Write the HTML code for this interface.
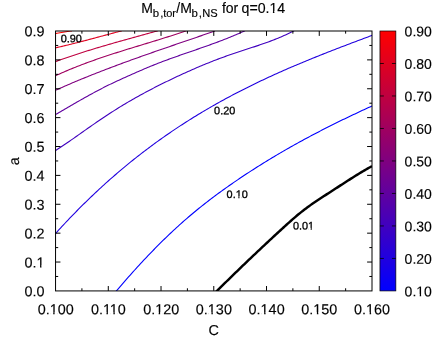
<!DOCTYPE html>
<html><head><meta charset="utf-8"><title>chart</title>
<style>
html,body{margin:0;padding:0;background:#fff;}
body{width:436px;height:337px;overflow:hidden;}
svg{display:block;}
text{font-family:"Liberation Sans",sans-serif;fill:#000;stroke:#000;stroke-width:0.15px;}
.lb text{stroke-width:0.3px;}
</style></head><body>
<svg width="436" height="337" viewBox="0 0 436 337">
<defs><filter id="gs" filterUnits="userSpaceOnUse" x="0" y="0" width="436" height="337"><feOffset dx="0" dy="0"/></filter><linearGradient id="g" x1="0" y1="1" x2="0" y2="0"><stop offset="0" stop-color="#0000ff"/><stop offset="1" stop-color="#ff0000"/></linearGradient>
<clipPath id="cp"><rect x="55.55" y="31.00" width="316.45" height="259.92"/></clipPath></defs>
<rect width="436" height="337" fill="#fff"/>
<g fill="none" stroke-width="1.1" stroke-linejoin="round" clip-path="url(#cp)" stroke-linecap="butt">
<path d="M54.00,33.87 L55.50,33.60 L57.00,33.33 L58.50,33.07 L60.00,32.81 L61.50,32.55 L63.00,32.30 L64.50,32.05 L66.00,31.80 L67.50,31.56 L69.00,31.32 L70.50,31.08 L72.00,30.84" stroke="rgb(255,0,0)"/>
<path d="M54.50,48.03 L56.00,47.70 L57.50,47.37 L59.00,47.04 L60.50,46.70 L62.00,46.36 L63.50,46.01 L65.00,45.66 L66.50,45.30 L68.00,44.94 L69.50,44.58 L71.00,44.21 L72.50,43.84 L74.00,43.46 L75.50,43.08 L77.00,42.70 L78.50,42.31 L80.00,41.92 L81.50,41.53 L83.00,41.14 L84.50,40.75 L86.00,40.35 L87.50,39.95 L89.00,39.55 L90.50,39.15 L92.00,38.75 L93.50,38.35 L95.00,37.94 L96.50,37.54 L98.00,37.14 L99.50,36.73 L101.00,36.33 L102.50,35.92 L104.00,35.52 L105.50,35.11 L107.00,34.71 L108.50,34.31 L110.00,33.91 L111.50,33.51 L113.00,33.11 L114.50,32.72 L116.00,32.33 L117.50,31.93 L119.00,31.55 L120.50,31.16 L122.00,30.77" stroke="rgb(223,0,32)"/>
<path d="M54.50,61.94 L56.00,61.40 L57.50,60.86 L59.00,60.32 L60.50,59.78 L62.00,59.25 L63.50,58.73 L65.00,58.21 L66.50,57.69 L68.00,57.17 L69.50,56.67 L71.00,56.16 L72.50,55.66 L74.00,55.16 L75.50,54.67 L77.00,54.17 L78.50,53.69 L80.00,53.20 L81.50,52.72 L83.00,52.25 L84.50,51.77 L86.00,51.30 L87.50,50.83 L89.00,50.37 L90.50,49.91 L92.00,49.45 L93.50,48.99 L95.00,48.53 L96.50,48.08 L98.00,47.63 L99.50,47.19 L101.00,46.74 L102.50,46.30 L104.00,45.86 L105.50,45.42 L107.00,44.98 L108.50,44.55 L110.00,44.12 L111.50,43.68 L113.00,43.26 L114.50,42.83 L116.00,42.40 L117.50,41.98 L119.00,41.55 L120.50,41.13 L122.00,40.71 L123.50,40.29 L125.00,39.87 L126.50,39.45 L128.00,39.03 L129.50,38.61 L131.00,38.20 L132.50,37.78 L134.00,37.37 L135.50,36.95 L137.00,36.54 L138.50,36.12 L140.00,35.71 L141.50,35.29 L143.00,34.88 L144.50,34.46 L146.00,34.05 L147.50,33.64 L149.00,33.22 L150.50,32.80 L152.00,32.39 L153.50,31.97 L155.00,31.55 L156.50,31.14 L158.00,30.72" stroke="rgb(191,0,64)"/>
<path d="M54.50,76.23 L56.00,75.54 L57.50,74.85 L59.00,74.17 L60.50,73.50 L62.00,72.83 L63.50,72.17 L65.00,71.52 L66.50,70.88 L68.00,70.24 L69.50,69.61 L71.00,68.99 L72.50,68.37 L74.00,67.77 L75.50,67.16 L77.00,66.57 L78.50,65.98 L80.00,65.40 L81.50,64.82 L83.00,64.25 L84.50,63.68 L86.00,63.12 L87.50,62.57 L89.00,62.02 L90.50,61.47 L92.00,60.93 L93.50,60.40 L95.00,59.87 L96.50,59.34 L98.00,58.82 L99.50,58.31 L101.00,57.79 L102.50,57.28 L104.00,56.78 L105.50,56.28 L107.00,55.78 L108.50,55.29 L110.00,54.80 L111.50,54.31 L113.00,53.82 L114.50,53.34 L116.00,52.86 L117.50,52.38 L119.00,51.91 L120.50,51.44 L122.00,50.97 L123.50,50.50 L125.00,50.03 L126.50,49.57 L128.00,49.10 L129.50,48.64 L131.00,48.18 L132.50,47.72 L134.00,47.26 L135.50,46.81 L137.00,46.35 L138.50,45.89 L140.00,45.44 L141.50,44.98 L143.00,44.52 L144.50,44.07 L146.00,43.61 L147.50,43.15 L149.00,42.70 L150.50,42.24 L152.00,41.78 L153.50,41.32 L155.00,40.86 L156.50,40.40 L158.00,39.94 L159.50,39.47 L161.00,39.01 L162.50,38.54 L164.00,38.07 L165.50,37.59 L167.00,37.12 L168.50,36.64 L170.00,36.16 L171.50,35.68 L173.00,35.20 L174.50,34.71 L176.00,34.22 L177.50,33.73 L179.00,33.23 L180.50,32.73 L182.00,32.22 L183.50,31.72 L185.00,31.20 L186.50,30.69" stroke="rgb(159,0,96)"/>
<path d="M54.50,90.73 L56.00,90.06 L57.50,89.39 L59.00,88.72 L60.50,88.05 L62.00,87.39 L63.50,86.74 L65.00,86.08 L66.50,85.43 L68.00,84.78 L69.50,84.14 L71.00,83.50 L72.50,82.86 L74.00,82.23 L75.50,81.60 L77.00,80.97 L78.50,80.35 L80.00,79.72 L81.50,79.11 L83.00,78.49 L84.50,77.88 L86.00,77.27 L87.50,76.66 L89.00,76.06 L90.50,75.46 L92.00,74.86 L93.50,74.26 L95.00,73.67 L96.50,73.08 L98.00,72.49 L99.50,71.90 L101.00,71.32 L102.50,70.74 L104.00,70.16 L105.50,69.58 L107.00,69.01 L108.50,68.44 L110.00,67.87 L111.50,67.30 L113.00,66.74 L114.50,66.17 L116.00,65.61 L117.50,65.05 L119.00,64.50 L120.50,63.94 L122.00,63.39 L123.50,62.83 L125.00,62.29 L126.50,61.74 L128.00,61.19 L129.50,60.65 L131.00,60.10 L132.50,59.56 L134.00,59.02 L135.50,58.48 L137.00,57.95 L138.50,57.41 L140.00,56.88 L141.50,56.34 L143.00,55.81 L144.50,55.28 L146.00,54.75 L147.50,54.22 L149.00,53.69 L150.50,53.17 L152.00,52.64 L153.50,52.12 L155.00,51.60 L156.50,51.07 L158.00,50.55 L159.50,50.03 L161.00,49.51 L162.50,48.99 L164.00,48.47 L165.50,47.96 L167.00,47.44 L168.50,46.92 L170.00,46.41 L171.50,45.89 L173.00,45.37 L174.50,44.86 L176.00,44.35 L177.50,43.83 L179.00,43.32 L180.50,42.80 L182.00,42.29 L183.50,41.78 L185.00,41.26 L186.50,40.75 L188.00,40.23 L189.50,39.72 L191.00,39.21 L192.50,38.69 L194.00,38.18 L195.50,37.67 L197.00,37.15 L198.50,36.64 L200.00,36.12 L201.50,35.61 L203.00,35.09 L204.50,34.57 L206.00,34.06 L207.50,33.54 L209.00,33.02 L210.50,32.50 L212.00,31.98 L213.50,31.46 L215.00,30.94" stroke="rgb(128,0,128)"/>
<path d="M54.50,115.13 L56.00,114.27 L57.50,113.40 L59.00,112.53 L60.50,111.66 L62.00,110.79 L63.50,109.92 L65.00,109.05 L66.50,108.17 L68.00,107.30 L69.50,106.43 L71.00,105.56 L72.50,104.69 L74.00,103.83 L75.50,102.96 L77.00,102.10 L78.50,101.24 L80.00,100.38 L81.50,99.53 L83.00,98.68 L84.50,97.83 L86.00,96.99 L87.50,96.16 L89.00,95.32 L90.50,94.50 L92.00,93.68 L93.50,92.86 L95.00,92.05 L96.50,91.25 L98.00,90.46 L99.50,89.67 L101.00,88.89 L102.50,88.12 L104.00,87.35 L105.50,86.60 L107.00,85.85 L108.50,85.11 L110.00,84.38 L111.50,83.66 L113.00,82.94 L114.50,82.23 L116.00,81.52 L117.50,80.82 L119.00,80.13 L120.50,79.44 L122.00,78.76 L123.50,78.08 L125.00,77.41 L126.50,76.74 L128.00,76.07 L129.50,75.41 L131.00,74.74 L132.50,74.09 L134.00,73.43 L135.50,72.77 L137.00,72.12 L138.50,71.47 L140.00,70.82 L141.50,70.17 L143.00,69.52 L144.50,68.87 L146.00,68.23 L147.50,67.59 L149.00,66.96 L150.50,66.34 L152.00,65.72 L153.50,65.12 L155.00,64.51 L156.50,63.92 L158.00,63.33 L159.50,62.75 L161.00,62.18 L162.50,61.61 L164.00,61.04 L165.50,60.48 L167.00,59.93 L168.50,59.37 L170.00,58.83 L171.50,58.29 L173.00,57.75 L174.50,57.21 L176.00,56.68 L177.50,56.15 L179.00,55.62 L180.50,55.10 L182.00,54.57 L183.50,54.05 L185.00,53.53 L186.50,53.01 L188.00,52.50 L189.50,51.98 L191.00,51.46 L192.50,50.94 L194.00,50.43 L195.50,49.91 L197.00,49.39 L198.50,48.87 L200.00,48.35 L201.50,47.83 L203.00,47.30 L204.50,46.77 L206.00,46.25 L207.50,45.71 L209.00,45.18 L210.50,44.64 L212.00,44.10 L213.50,43.55 L215.00,43.00 L216.50,42.44 L218.00,41.88 L219.50,41.32 L221.00,40.75 L222.50,40.17 L224.00,39.59 L225.50,39.01 L227.00,38.41 L228.50,37.81 L230.00,37.21 L231.50,36.59 L233.00,35.97 L234.50,35.34 L236.00,34.71 L237.50,34.06 L239.00,33.41 L240.50,32.75 L242.00,32.08 L243.50,31.40 L245.00,30.71" stroke="rgb(96,0,159)"/>
<path d="M54.50,151.19 L56.00,150.23 L57.50,149.27 L59.00,148.29 L60.50,147.31 L62.00,146.31 L63.50,145.31 L65.00,144.30 L66.50,143.28 L68.00,142.25 L69.50,141.21 L71.00,140.17 L72.50,139.13 L74.00,138.08 L75.50,137.02 L77.00,135.97 L78.50,134.91 L80.00,133.85 L81.50,132.79 L83.00,131.73 L84.50,130.67 L86.00,129.61 L87.50,128.56 L89.00,127.50 L90.50,126.45 L92.00,125.41 L93.50,124.37 L95.00,123.33 L96.50,122.30 L98.00,121.28 L99.50,120.26 L101.00,119.24 L102.50,118.23 L104.00,117.23 L105.50,116.23 L107.00,115.24 L108.50,114.26 L110.00,113.28 L111.50,112.31 L113.00,111.35 L114.50,110.40 L116.00,109.45 L117.50,108.51 L119.00,107.58 L120.50,106.65 L122.00,105.74 L123.50,104.83 L125.00,103.93 L126.50,103.04 L128.00,102.15 L129.50,101.28 L131.00,100.41 L132.50,99.54 L134.00,98.69 L135.50,97.84 L137.00,96.99 L138.50,96.16 L140.00,95.33 L141.50,94.50 L143.00,93.69 L144.50,92.87 L146.00,92.07 L147.50,91.27 L149.00,90.48 L150.50,89.69 L152.00,88.91 L153.50,88.13 L155.00,87.36 L156.50,86.60 L158.00,85.84 L159.50,85.08 L161.00,84.33 L162.50,83.59 L164.00,82.84 L165.50,82.11 L167.00,81.38 L168.50,80.65 L170.00,79.93 L171.50,79.21 L173.00,78.49 L174.50,77.78 L176.00,77.08 L177.50,76.37 L179.00,75.67 L180.50,74.98 L182.00,74.29 L183.50,73.60 L185.00,72.92 L186.50,72.24 L188.00,71.57 L189.50,70.90 L191.00,70.23 L192.50,69.57 L194.00,68.92 L195.50,68.27 L197.00,67.62 L198.50,66.98 L200.00,66.34 L201.50,65.71 L203.00,65.09 L204.50,64.47 L206.00,63.85 L207.50,63.24 L209.00,62.64 L210.50,62.04 L212.00,61.44 L213.50,60.85 L215.00,60.27 L216.50,59.69 L218.00,59.12 L219.50,58.56 L221.00,58.00 L222.50,57.44 L224.00,56.90 L225.50,56.36 L227.00,55.82 L228.50,55.29 L230.00,54.77 L231.50,54.25 L233.00,53.74 L234.50,53.24 L236.00,52.74 L237.50,52.24 L239.00,51.75 L240.50,51.26 L242.00,50.77 L243.50,50.28 L245.00,49.79 L246.50,49.31 L248.00,48.82 L249.50,48.33 L251.00,47.85 L252.50,47.35 L254.00,46.86 L255.50,46.37 L257.00,45.87 L258.50,45.36 L260.00,44.85 L261.50,44.34 L263.00,43.82 L264.50,43.29 L266.00,42.76 L267.50,42.21 L269.00,41.66 L270.50,41.11 L272.00,40.54 L273.50,39.96 L275.00,39.37 L276.50,38.77 L278.00,38.15 L279.50,37.53 L281.00,36.89 L282.50,36.24 L284.00,35.57 L285.50,34.89 L287.00,34.20 L288.50,33.48 L290.00,32.76 L291.50,32.01 L293.00,31.25 L294.50,30.47" stroke="rgb(64,0,191)"/>
<path d="M54.50,234.70 L56.00,233.04 L57.50,231.38 L59.00,229.74 L60.50,228.10 L62.00,226.47 L63.50,224.86 L65.00,223.25 L66.50,221.65 L68.00,220.07 L69.50,218.49 L71.00,216.92 L72.50,215.36 L74.00,213.82 L75.50,212.28 L77.00,210.75 L78.50,209.23 L80.00,207.72 L81.50,206.22 L83.00,204.73 L84.50,203.25 L86.00,201.78 L87.50,200.31 L89.00,198.86 L90.50,197.41 L92.00,195.98 L93.50,194.55 L95.00,193.13 L96.50,191.73 L98.00,190.33 L99.50,188.94 L101.00,187.55 L102.50,186.18 L104.00,184.82 L105.50,183.46 L107.00,182.11 L108.50,180.77 L110.00,179.44 L111.50,178.12 L113.00,176.81 L114.50,175.50 L116.00,174.21 L117.50,172.92 L119.00,171.64 L120.50,170.37 L122.00,169.10 L123.50,167.85 L125.00,166.60 L126.50,165.36 L128.00,164.13 L129.50,162.91 L131.00,161.69 L132.50,160.48 L134.00,159.28 L135.50,158.09 L137.00,156.90 L138.50,155.73 L140.00,154.56 L141.50,153.39 L143.00,152.24 L144.50,151.09 L146.00,149.95 L147.50,148.82 L149.00,147.70 L150.50,146.58 L152.00,145.47 L153.50,144.36 L155.00,143.27 L156.50,142.18 L158.00,141.09 L159.50,140.02 L161.00,138.95 L162.50,137.89 L164.00,136.83 L165.50,135.78 L167.00,134.74 L168.50,133.71 L170.00,132.68 L171.50,131.66 L173.00,130.64 L174.50,129.63 L176.00,128.63 L177.50,127.63 L179.00,126.65 L180.50,125.66 L182.00,124.68 L183.50,123.71 L185.00,122.75 L186.50,121.79 L188.00,120.84 L189.50,119.89 L191.00,118.95 L192.50,118.01 L194.00,117.09 L195.50,116.16 L197.00,115.25 L198.50,114.33 L200.00,113.43 L201.50,112.53 L203.00,111.63 L204.50,110.74 L206.00,109.86 L207.50,108.98 L209.00,108.11 L210.50,107.24 L212.00,106.38 L213.50,105.52 L215.00,104.67 L216.50,103.82 L218.00,102.98 L219.50,102.14 L221.00,101.31 L222.50,100.48 L224.00,99.66 L225.50,98.84 L227.00,98.03 L228.50,97.22 L230.00,96.42 L231.50,95.62 L233.00,94.83 L234.50,94.04 L236.00,93.26 L237.50,92.48 L239.00,91.70 L240.50,90.93 L242.00,90.17 L243.50,89.40 L245.00,88.65 L246.50,87.89 L248.00,87.15 L249.50,86.40 L251.00,85.66 L252.50,84.92 L254.00,84.19 L255.50,83.46 L257.00,82.74 L258.50,82.02 L260.00,81.30 L261.50,80.59 L263.00,79.88 L264.50,79.18 L266.00,78.48 L267.50,77.78 L269.00,77.08 L270.50,76.39 L272.00,75.71 L273.50,75.02 L275.00,74.34 L276.50,73.67 L278.00,72.99 L279.50,72.33 L281.00,71.66 L282.50,71.00 L284.00,70.34 L285.50,69.68 L287.00,69.02 L288.50,68.37 L290.00,67.73 L291.50,67.08 L293.00,66.44 L294.50,65.80 L296.00,65.16 L297.50,64.53 L299.00,63.90 L300.50,63.27 L302.00,62.64 L303.50,62.02 L305.00,61.40 L306.50,60.78 L308.00,60.16 L309.50,59.55 L311.00,58.94 L312.50,58.33 L314.00,57.72 L315.50,57.12 L317.00,56.51 L318.50,55.91 L320.00,55.31 L321.50,54.72 L323.00,54.12 L324.50,53.53 L326.00,52.94 L327.50,52.35 L329.00,51.76 L330.50,51.18 L332.00,50.59 L333.50,50.01 L335.00,49.43 L336.50,48.85 L338.00,48.27 L339.50,47.69 L341.00,47.11 L342.50,46.54 L344.00,45.97 L345.50,45.39 L347.00,44.82 L348.50,44.25 L350.00,43.68 L351.50,43.11 L353.00,42.55 L354.50,41.98 L356.00,41.41 L357.50,40.85 L359.00,40.28 L360.50,39.72 L362.00,39.16 L363.50,38.59 L365.00,38.03 L366.50,37.47 L368.00,36.91 L369.50,36.35 L371.00,35.78 L372.50,35.22" stroke="rgb(32,0,223)"/>
<path d="M115.00,292.55 L116.50,290.79 L118.00,289.04 L119.50,287.28 L121.00,285.54 L122.50,283.81 L124.00,282.08 L125.50,280.37 L127.00,278.66 L128.50,276.96 L130.00,275.27 L131.50,273.59 L133.00,271.91 L134.50,270.25 L136.00,268.59 L137.50,266.95 L139.00,265.31 L140.50,263.68 L142.00,262.07 L143.50,260.46 L145.00,258.86 L146.50,257.27 L148.00,255.70 L149.50,254.13 L151.00,252.57 L152.50,251.02 L154.00,249.49 L155.50,247.96 L157.00,246.44 L158.50,244.94 L160.00,243.44 L161.50,241.95 L163.00,240.48 L164.50,239.01 L166.00,237.56 L167.50,236.12 L169.00,234.68 L170.50,233.26 L172.00,231.85 L173.50,230.45 L175.00,229.06 L176.50,227.68 L178.00,226.31 L179.50,224.95 L181.00,223.61 L182.50,222.27 L184.00,220.94 L185.50,219.63 L187.00,218.33 L188.50,217.03 L190.00,215.75 L191.50,214.48 L193.00,213.22 L194.50,211.97 L196.00,210.74 L197.50,209.51 L199.00,208.29 L200.50,207.08 L202.00,205.88 L203.50,204.70 L205.00,203.52 L206.50,202.35 L208.00,201.19 L209.50,200.04 L211.00,198.89 L212.50,197.76 L214.00,196.63 L215.50,195.51 L217.00,194.40 L218.50,193.30 L220.00,192.21 L221.50,191.12 L223.00,190.04 L224.50,188.96 L226.00,187.90 L227.50,186.84 L229.00,185.78 L230.50,184.74 L232.00,183.69 L233.50,182.66 L235.00,181.63 L236.50,180.60 L238.00,179.58 L239.50,178.57 L241.00,177.56 L242.50,176.56 L244.00,175.56 L245.50,174.57 L247.00,173.58 L248.50,172.60 L250.00,171.62 L251.50,170.65 L253.00,169.69 L254.50,168.72 L256.00,167.77 L257.50,166.82 L259.00,165.87 L260.50,164.93 L262.00,163.99 L263.50,163.06 L265.00,162.13 L266.50,161.21 L268.00,160.29 L269.50,159.38 L271.00,158.47 L272.50,157.57 L274.00,156.67 L275.50,155.78 L277.00,154.89 L278.50,154.00 L280.00,153.12 L281.50,152.24 L283.00,151.37 L284.50,150.50 L286.00,149.64 L287.50,148.78 L289.00,147.93 L290.50,147.07 L292.00,146.23 L293.50,145.38 L295.00,144.55 L296.50,143.71 L298.00,142.88 L299.50,142.05 L301.00,141.23 L302.50,140.41 L304.00,139.60 L305.50,138.78 L307.00,137.98 L308.50,137.17 L310.00,136.37 L311.50,135.58 L313.00,134.78 L314.50,133.99 L316.00,133.21 L317.50,132.42 L319.00,131.65 L320.50,130.87 L322.00,130.10 L323.50,129.33 L325.00,128.56 L326.50,127.80 L328.00,127.04 L329.50,126.28 L331.00,125.53 L332.50,124.78 L334.00,124.03 L335.50,123.29 L337.00,122.55 L338.50,121.81 L340.00,121.08 L341.50,120.34 L343.00,119.61 L344.50,118.89 L346.00,118.16 L347.50,117.44 L349.00,116.72 L350.50,116.01 L352.00,115.30 L353.50,114.59 L355.00,113.88 L356.50,113.17 L358.00,112.47 L359.50,111.77 L361.00,111.07 L362.50,110.37 L364.00,109.68 L365.50,108.99 L367.00,108.30 L368.50,107.61 L370.00,106.93 L371.50,106.24 L373.00,105.56" stroke="rgb(0,0,255)"/>
<path d="M216.00,291.88 L217.50,290.39 L219.00,288.90 L220.50,287.41 L222.00,285.93 L223.50,284.45 L225.00,282.97 L226.50,281.50 L228.00,280.02 L229.50,278.56 L231.00,277.09 L232.50,275.63 L234.00,274.17 L235.50,272.71 L237.00,271.26 L238.50,269.81 L240.00,268.36 L241.50,266.91 L243.00,265.47 L244.50,264.03 L246.00,262.59 L247.50,261.16 L249.00,259.73 L250.50,258.30 L252.00,256.87 L253.50,255.45 L255.00,254.03 L256.50,252.61 L258.00,251.19 L259.50,249.78 L261.00,248.37 L262.50,246.96 L264.00,245.55 L265.50,244.15 L267.00,242.75 L268.50,241.35 L270.00,239.95 L271.50,238.56 L273.00,237.16 L274.50,235.77 L276.00,234.39 L277.50,233.00 L279.00,231.62 L280.50,230.24 L282.00,228.86 L283.50,227.48 L285.00,226.11 L286.50,224.75 L288.00,223.40 L289.50,222.05 L291.00,220.72 L292.50,219.40 L294.00,218.10 L295.50,216.82 L297.00,215.55 L298.50,214.31 L300.00,213.09 L301.50,211.89 L303.00,210.71 L304.50,209.56 L306.00,208.42 L307.50,207.30 L309.00,206.21 L310.50,205.13 L312.00,204.07 L313.50,203.03 L315.00,202.01 L316.50,200.99 L318.00,199.99 L319.50,199.00 L321.00,198.02 L322.50,197.04 L324.00,196.07 L325.50,195.11 L327.00,194.14 L328.50,193.18 L330.00,192.21 L331.50,191.25 L333.00,190.28 L334.50,189.30 L336.00,188.33 L337.50,187.35 L339.00,186.38 L340.50,185.40 L342.00,184.43 L343.50,183.46 L345.00,182.49 L346.50,181.52 L348.00,180.56 L349.50,179.60 L351.00,178.64 L352.50,177.69 L354.00,176.75 L355.50,175.82 L357.00,174.89 L358.50,173.97 L360.00,173.05 L361.50,172.15 L363.00,171.26 L364.50,170.38 L366.00,169.50 L367.50,168.64 L369.00,167.80 L370.50,166.96 L372.00,166.14" stroke="#000" stroke-width="2.45"/>
</g>
<path d="M55.55,276.48 h2.65 M372.00,276.48 h-2.65 M55.55,262.04 h4.90 M372.00,262.04 h-4.90 M55.55,247.60 h2.65 M372.00,247.60 h-2.65 M55.55,233.16 h4.90 M372.00,233.16 h-4.90 M55.55,218.72 h2.65 M372.00,218.72 h-2.65 M55.55,204.28 h4.90 M372.00,204.28 h-4.90 M55.55,189.84 h2.65 M372.00,189.84 h-2.65 M55.55,175.40 h4.90 M372.00,175.40 h-4.90 M55.55,160.96 h2.65 M372.00,160.96 h-2.65 M55.55,146.52 h4.90 M372.00,146.52 h-4.90 M55.55,132.08 h2.65 M372.00,132.08 h-2.65 M55.55,117.64 h4.90 M372.00,117.64 h-4.90 M55.55,103.20 h2.65 M372.00,103.20 h-2.65 M55.55,88.76 h4.90 M372.00,88.76 h-4.90 M55.55,74.32 h2.65 M372.00,74.32 h-2.65 M55.55,59.88 h4.90 M372.00,59.88 h-4.90 M55.55,45.44 h2.65 M372.00,45.44 h-2.65 M81.92,290.92 v-2.65 M81.92,31.00 v2.65 M108.29,290.92 v-4.90 M108.29,31.00 v4.90 M134.66,290.92 v-2.65 M134.66,31.00 v2.65 M161.03,290.92 v-4.90 M161.03,31.00 v4.90 M187.40,290.92 v-2.65 M187.40,31.00 v2.65 M213.77,290.92 v-4.90 M213.77,31.00 v4.90 M240.15,290.92 v-2.65 M240.15,31.00 v2.65 M266.52,290.92 v-4.90 M266.52,31.00 v4.90 M292.89,290.92 v-2.65 M292.89,31.00 v2.65 M319.26,290.92 v-4.90 M319.26,31.00 v4.90 M345.63,290.92 v-2.65 M345.63,31.00 v2.65" stroke="#000" stroke-width="1" fill="none"/>
<rect x="55.55" y="31.00" width="316.45" height="259.92" fill="none" stroke="#000" stroke-width="1"/>
<g filter="url(#gs)" font-size="14.4">
<text transform="matrix(1 0.0005 0 1 44.5 296.27)" text-anchor="end">0.0</text>
<text transform="matrix(1 0.0005 0 1 44.5 267.39)" text-anchor="end">0.1</text>
<text transform="matrix(1 0.0005 0 1 44.5 238.51)" text-anchor="end">0.2</text>
<text transform="matrix(1 0.0005 0 1 44.5 209.63)" text-anchor="end">0.3</text>
<text transform="matrix(1 0.0005 0 1 44.5 180.75)" text-anchor="end">0.4</text>
<text transform="matrix(1 0.0005 0 1 44.5 151.87)" text-anchor="end">0.5</text>
<text transform="matrix(1 0.0005 0 1 44.5 122.99)" text-anchor="end">0.6</text>
<text transform="matrix(1 0.0005 0 1 44.5 94.11)" text-anchor="end">0.7</text>
<text transform="matrix(1 0.0005 0 1 44.5 65.23)" text-anchor="end">0.8</text>
<text transform="matrix(1 0.0005 0 1 44.5 36.35)" text-anchor="end">0.9</text>
<text transform="matrix(1 0.0005 0 1 55.65 314.3)" text-anchor="middle">0.100</text>
<text transform="matrix(1 0.0005 0 1 108.39 314.3)" text-anchor="middle">0.110</text>
<text transform="matrix(1 0.0005 0 1 161.13 314.3)" text-anchor="middle">0.120</text>
<text transform="matrix(1 0.0005 0 1 213.87 314.3)" text-anchor="middle">0.130</text>
<text transform="matrix(1 0.0005 0 1 266.62 314.3)" text-anchor="middle">0.140</text>
<text transform="matrix(1 0.0005 0 1 319.36 314.3)" text-anchor="middle">0.150</text>
<text transform="matrix(1 0.0005 0 1 372.10 314.3)" text-anchor="middle">0.160</text>
<text transform="matrix(1 0.0005 0 1 213.6 335.1)" text-anchor="middle">C</text>
<text transform="translate(19.0,161.3) rotate(-90.03)" text-anchor="middle">a</text>
<text font-size="14" transform="matrix(1 0.0005 0 1 404.6 296.22)">0.10</text>
<text font-size="14" transform="matrix(1 0.0005 0 1 404.6 263.73)">0.20</text>
<text font-size="14" transform="matrix(1 0.0005 0 1 404.6 231.24)">0.30</text>
<text font-size="14" transform="matrix(1 0.0005 0 1 404.6 198.75)">0.40</text>
<text font-size="14" transform="matrix(1 0.0005 0 1 404.6 166.26)">0.50</text>
<text font-size="14" transform="matrix(1 0.0005 0 1 404.6 133.77)">0.60</text>
<text font-size="14" transform="matrix(1 0.0005 0 1 404.6 101.28)">0.70</text>
<text font-size="14" transform="matrix(1 0.0005 0 1 404.6 68.79)">0.80</text>
<text font-size="14" transform="matrix(1 0.0005 0 1 404.6 36.30)">0.90</text>
</g>
<text filter="url(#gs)" font-size="14"><tspan x="141.2" y="12.9">M</tspan><tspan x="152.7" y="16.6" font-size="11.4">b</tspan><tspan x="160.2" y="16.6" font-size="11.4">,</tspan><tspan x="163.2" y="16.6" font-size="11">tor</tspan><tspan x="176.3" y="12.9">/M</tspan><tspan x="191.6" y="16.6" font-size="11.4">b</tspan><tspan x="198.85" y="16.6" font-size="11.4">,</tspan><tspan x="202.2" y="16.6" font-size="11.1">NS</tspan><tspan x="221.9" y="12.9">for</tspan><tspan x="241.6" y="12.9" font-size="14.15">q=0.14</tspan></text>
<g class="lb" filter="url(#gs)" font-size="10.9">
<text transform="matrix(1 0.0005 0 1 60.7 42.3)">0.90</text>
<text transform="matrix(1 0.0005 0 1 214.1 114.3)">0.20</text>
<text transform="matrix(1 0.0005 0 1 226.6 198.0)">0.10</text>
<text transform="matrix(1 0.0005 0 1 292.9 229.6)">0.01</text>
</g>
<rect x="379.95" y="31.00" width="15.90" height="259.92" fill="url(#g)" stroke="#000" stroke-width="0.7"/>
<path d="M379.95,258.43 h3.9 M395.85,258.43 h-3.9 M379.95,225.94 h3.9 M395.85,225.94 h-3.9 M379.95,193.45 h3.9 M395.85,193.45 h-3.9 M379.95,160.96 h3.9 M395.85,160.96 h-3.9 M379.95,128.47 h3.9 M395.85,128.47 h-3.9 M379.95,95.98 h3.9 M395.85,95.98 h-3.9 M379.95,63.49 h3.9 M395.85,63.49 h-3.9" stroke="#000" stroke-width="0.8" fill="none"/>
<g id="ones" fill="#fff">
<rect x="37.08" y="265.41" width="2.91" height="3.23"/>
<rect x="41.50" y="265.41" width="2.79" height="3.23"/>
<rect x="50.24" y="312.32" width="2.91" height="3.23"/>
<rect x="54.66" y="312.32" width="2.79" height="3.23"/>
<rect x="103.51" y="312.32" width="2.91" height="3.23"/>
<rect x="107.93" y="312.32" width="2.79" height="3.23"/>
<rect x="110.43" y="312.33" width="2.91" height="3.23"/>
<rect x="114.85" y="312.33" width="2.79" height="3.23"/>
<rect x="155.72" y="312.32" width="2.91" height="3.23"/>
<rect x="160.14" y="312.32" width="2.79" height="3.23"/>
<rect x="208.46" y="312.32" width="2.91" height="3.23"/>
<rect x="212.88" y="312.32" width="2.79" height="3.23"/>
<rect x="261.21" y="312.32" width="2.91" height="3.23"/>
<rect x="265.63" y="312.32" width="2.79" height="3.23"/>
<rect x="313.95" y="312.32" width="2.91" height="3.23"/>
<rect x="318.37" y="312.32" width="2.79" height="3.23"/>
<rect x="366.69" y="312.32" width="2.91" height="3.23"/>
<rect x="371.11" y="312.32" width="2.79" height="3.23"/>
<rect x="416.84" y="294.28" width="2.84" height="3.20"/>
<rect x="421.15" y="294.28" width="2.72" height="3.20"/>
<rect x="270.07" y="10.95" width="2.84" height="3.20"/>
<rect x="274.38" y="10.95" width="2.72" height="3.20"/>
<rect x="236.01" y="196.29" width="2.29" height="2.96"/>
<rect x="239.50" y="196.29" width="2.20" height="2.96"/>
<rect x="308.35" y="227.89" width="2.29" height="2.96"/>
<rect x="311.85" y="227.89" width="2.20" height="2.96"/>
</g>
</svg>
</body></html>
